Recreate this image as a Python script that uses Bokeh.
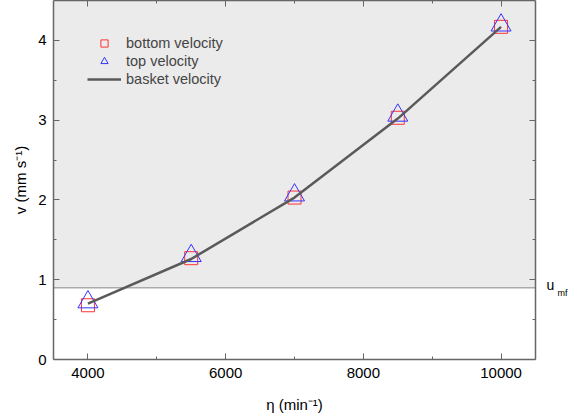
from bokeh.plotting import figure
from bokeh.models import (Range1d, LinearAxis, BoxAnnotation, Span,
                          Legend, LegendItem, FixedTicker, CustomJSTickFormatter)
from bokeh.embed import file_html
from bokeh.resources import INLINE

speed = [4000, 5500, 7000, 8500, 10000]
bottom_v = [0.68, 1.27, 2.03, 3.03, 4.17]
top_v = [0.72, 1.30, 2.06, 3.06, 4.19]
basket_v = [0.70, 1.26, 2.03, 3.02, 4.17]
u_mf = 0.9
umf_main = "u"
umf_sub = "mf"

x_major = [4000, 6000, 8000, 10000]
x_minor = [5000, 7000, 9000]
y_major = [0, 1, 2, 3, 4]
y_minor = [0.5, 1.5, 2.5, 3.5]

FONT = "Liberation Sans"
AX = "#666666"

p = figure(width=570, height=415, output_backend="svg", toolbar_location=None,
           x_range=Range1d(3500, 10500), y_range=Range1d(0, 4.5),
           min_border_left=53, min_border_right=0, min_border_top=0,
           min_border_bottom=44)
p.outline_line_color = None
p.grid.visible = False
p.background_fill_color = "white"

p.add_layout(BoxAnnotation(bottom=u_mf, fill_color="#ebebeb", fill_alpha=1,
                           line_color=None, level="underlay"))
p.add_layout(Span(location=u_mf, dimension="width", line_color="#aaaaaa",
                  line_width=1.5, level="underlay"))

def style(ax):
    ax.axis_line_color = AX
    ax.axis_line_width = 1.5
    ax.major_tick_line_color = AX
    ax.minor_tick_line_color = AX
    ax.major_tick_in = 6
    ax.major_tick_out = 0
    ax.minor_tick_in = 3
    ax.minor_tick_out = 0
    ax.major_label_text_font = FONT
    ax.major_label_text_font_size = "15px"
    ax.major_label_text_color = "black"
    ax.axis_label_text_font = FONT
    ax.axis_label_text_font_size = "15px"
    ax.axis_label_text_font_style = "normal"
    ax.axis_label_text_color = "black"

p.xaxis.ticker = FixedTicker(ticks=x_major, minor_ticks=x_minor)
p.yaxis.ticker = FixedTicker(ticks=y_major, minor_ticks=y_minor)
p.xaxis.axis_label = "η (min⁻¹)"
p.yaxis.axis_label = "v (mm s⁻¹)"
style(p.xaxis[0])
style(p.yaxis[0])
p.xaxis.major_label_standoff = 8
p.xaxis.axis_label_standoff = 15
p.yaxis.major_label_standoff = 7
p.yaxis.axis_label_standoff = 6

blank = CustomJSTickFormatter(code="return ''")
top_ax = LinearAxis(ticker=FixedTicker(ticks=x_major, minor_ticks=x_minor),
                    formatter=blank)
style(top_ax)
top_ax.major_label_standoff = 0
p.add_layout(top_ax, "above")
right_ax = LinearAxis(ticker=FixedTicker(ticks=y_major, minor_ticks=y_minor),
                      formatter=blank)
style(right_ax)
right_ax.major_label_standoff = 0
p.add_layout(right_ax, "right")

# u_mf label drawn as tick labels of two extra right-hand axes
def label_axis(loc, text, size, standoff):
    ax = LinearAxis(ticker=FixedTicker(ticks=[loc], minor_ticks=[]),
                    major_label_overrides={loc: text})
    ax.axis_line_color = None
    ax.major_tick_line_color = None
    ax.major_tick_in = 0
    ax.major_tick_out = 0
    ax.major_label_standoff = standoff
    ax.major_label_text_font = FONT
    ax.major_label_text_font_size = size
    ax.major_label_text_color = "black"
    return ax

p.add_layout(label_axis(u_mf + 0.03, umf_main, "14px", 11), "right")
p.add_layout(label_axis(u_mf - 0.07, umf_sub, "9px", 0), "right")

r_sq = p.scatter(speed, bottom_v, marker="square", size=13, fill_color=None,
                 line_color="#ff3333", line_width=1)
r_tr = p.scatter(speed, top_v, marker="triangle", size=20, fill_color=None,
                 line_color="#3333ff", line_width=1)
r_ln = p.line(speed, basket_v, line_color="#5a5a5a", line_width=2.5)

legend = Legend(items=[LegendItem(label="bottom velocity", renderers=[r_sq]),
                       LegendItem(label="top velocity", renderers=[r_tr]),
                       LegendItem(label="basket velocity", renderers=[r_ln])],
                location="top_left", margin=34, padding=0, spacing=0,
                glyph_width=34, glyph_height=18, label_standoff=5,
                label_text_font=FONT, label_text_font_size="14.5px",
                label_text_color="#444444", border_line_color=None,
                background_fill_alpha=0)
p.add_layout(legend)

open("out.html", "w").write(file_html(p, INLINE))
